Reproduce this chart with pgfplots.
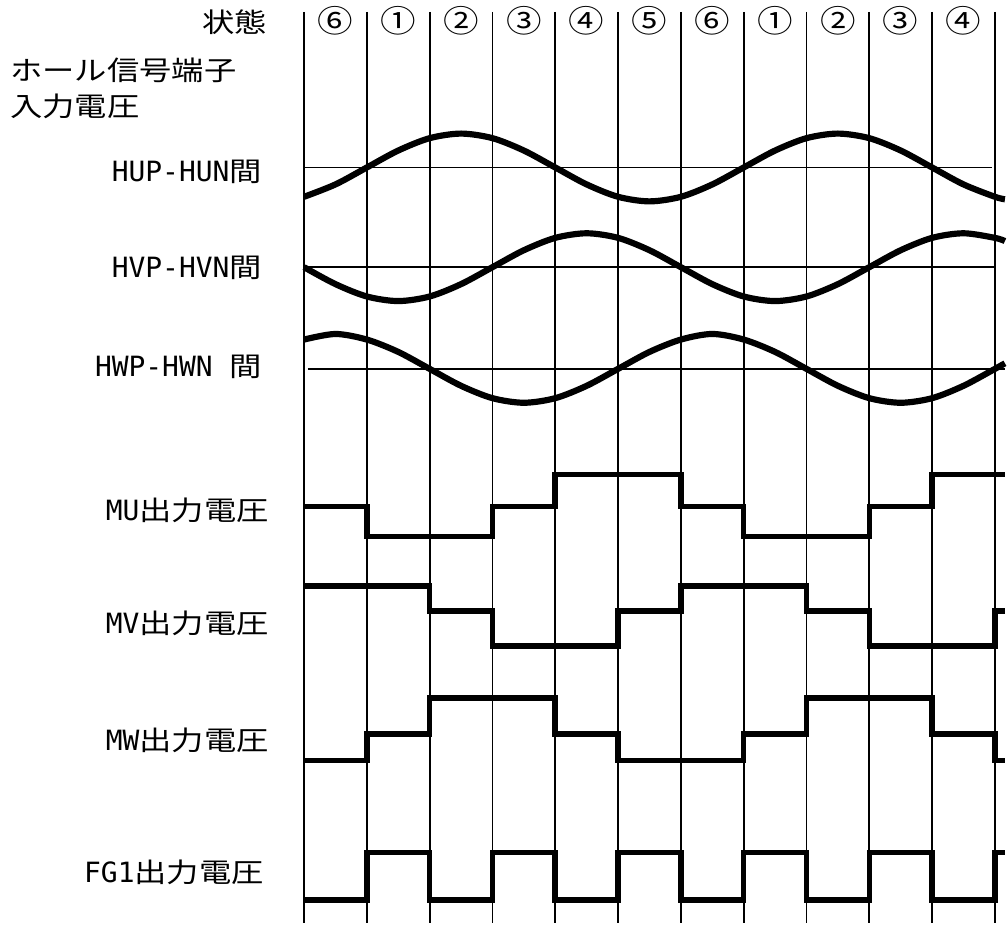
\documentclass[border=0pt]{standalone}
\usepackage{fontspec}
\usepackage{graphicx}
\usepackage{pgfplots}
\pgfplotsset{compat=1.18}
\setmainfont{DejaVu Sans Mono}
\newfontfamily\jpfont{Noto Sans CJK JP}
\newcommand{\J}[1]{\scalebox{1.2}[1]{\jpfont\fontsize{13.5pt}{16pt}\selectfont #1}}
\newcommand{\C}[1]{\scalebox{1.15}[1]{\jpfont\fontsize{15.5pt}{17pt}\selectfont #1}}
\newcommand{\lat}{\fontsize{14pt}{16pt}\selectfont}

\begin{document}
\begin{tikzpicture}
\begin{axis}[
  scale only axis, width=504pt, height=463pt,
  xmin=-4.841, xmax=11.159, ymin=0, ymax=926, y dir=reverse,
  hide axis, clip=false, unbounded coords=jump,
  grid line/.style={black, line width=0.95pt},
  sig/.style={black, line width=2.8pt},
]
\path (rel axis cs:0,0) rectangle (rel axis cs:1,1);

% state boundaries
\addplot[grid line] coordinates {
 (0,12) (0,926) (0,nan) (1,12) (1,926) (1,nan) (2,12) (2,926) (2,nan)
 (3,12) (3,926) (3,nan) (4,12) (4,926) (4,nan) (5,12) (5,926) (5,nan)
 (6,12) (6,926) (6,nan) (7,12) (7,926) (7,nan) (8,12) (8,926) (8,nan)
 (9,12) (9,926) (9,nan) (10,12) (10,926) (10,nan) (11,12) (11,926)};

% zero lines of the hall signals
\addplot[grid line] coordinates {(0,168) (10.95,168)};
\addplot[grid line] coordinates {(0,268) (11.02,268)};
\addplot[grid line] coordinates {(0.06,370) (11.159,370)};

% HUP-HUN
\addplot[sig, line width=3.1pt, smooth] coordinates {
 (0,197.4) (0.5,185) (1,168) (1.5,151) (2,138.6) (2.5,134) (3,138.6) (3.5,151)
 (4,168) (4.5,185) (5,197.4) (5.5,202) (6,197.4) (6.5,185) (7,168) (7.5,151)
 (8,138.6) (8.5,134) (9,138.6) (9.5,151) (10,168) (10.5,185) (11,197.4) (11.159,199.9)};
% HVP-HVN
\addplot[sig, line width=3.1pt, smooth] coordinates {
 (0,268) (0.5,285) (1,297.4) (1.5,302) (2,297.4) (2.5,285) (3,268) (3.5,251)
 (4,238.6) (4.5,234) (5,238.6) (5.5,251) (6,268) (6.5,285) (7,297.4) (7.5,302)
 (8,297.4) (8.5,285) (9,268) (9.5,251) (10,238.6) (10.5,234) (11,238.6) (11.159,241.8)};
% HWP-HWN
\addplot[sig, line width=3.1pt, smooth] coordinates {
 (0,340.6) (0.5,335) (1,340.6) (1.5,353) (2,370) (2.5,387) (3,399.4) (3.5,404)
 (4,399.4) (4.5,387) (5,370) (5.5,353) (6,340.6) (6.5,335) (7,340.6) (7.5,353)
 (8,370) (8.5,387) (9,399.4) (9.5,404) (10,399.4) (10.5,387) (11,370) (11.159,364.4)};

% MU
\addplot[sig, const plot] coordinates {
 (0,508) (1,538) (3,508) (4,476) (6,508) (7,538) (9,508) (10,476) (11.159,476)};
% MV
\addplot[sig, const plot] coordinates {
 (0,588) (2,613) (3,648) (5,613) (6,588) (8,613) (9,648) (11,613) (11.159,613)};
% MW
\addplot[sig, const plot] coordinates {
 (0,763) (1,736) (2,700) (4,736) (5,763) (7,736) (8,700) (10,736) (11,763) (11.159,763)};
% FG1
\addplot[sig, const plot] coordinates {
 (0,903) (1,855) (2,903) (3,855) (4,903) (5,855) (6,903) (7,855) (8,903)
 (9,855) (10,903) (11,855) (11.159,855)};

% states
\node[anchor=base] at (axis cs:0.5,33) {\C{⑥}};
\node[anchor=base] at (axis cs:1.5,33) {\C{①}};
\node[anchor=base] at (axis cs:2.5,33) {\C{②}};
\node[anchor=base] at (axis cs:3.5,33) {\C{③}};
\node[anchor=base] at (axis cs:4.5,33) {\C{④}};
\node[anchor=base] at (axis cs:5.5,33) {\C{⑤}};
\node[anchor=base] at (axis cs:6.5,33) {\C{⑥}};
\node[anchor=base] at (axis cs:7.5,33) {\C{①}};
\node[anchor=base] at (axis cs:8.5,33) {\C{②}};
\node[anchor=base] at (axis cs:9.5,33) {\C{③}};
\node[anchor=base] at (axis cs:10.5,33) {\C{④}};

% labels
\node[anchor=base east, inner sep=0pt] at (axis cs:-0.587,33) {\J{状態}};
\node[anchor=base west, inner sep=0pt] at (axis cs:-4.683,81) {\J{ホール信号端子}};
\node[anchor=base west, inner sep=0pt] at (axis cs:-4.683,117) {\J{入力電圧}};
\node[anchor=base east, inner sep=0pt] at (axis cs:-0.667,182) {\lat HUP-HUN\J{間}};
\node[anchor=base east, inner sep=0pt] at (axis cs:-0.667,278) {\lat HVP-HVN\J{間}};
\node[anchor=base east, inner sep=0pt] at (axis cs:-0.667,378) {\lat HWP-HWN \J{間}};
\node[anchor=base east, inner sep=0pt] at (axis cs:-0.556,522) {\lat MU\J{出力電圧}};
\node[anchor=base east, inner sep=0pt] at (axis cs:-0.556,635) {\lat MV\J{出力電圧}};
\node[anchor=base east, inner sep=0pt] at (axis cs:-0.556,753) {\lat MW\J{出力電圧}};
\node[anchor=base east, inner sep=0pt] at (axis cs:-0.635,885) {\lat FG1\J{出力電圧}};
\end{axis}
\end{tikzpicture}
\end{document}
